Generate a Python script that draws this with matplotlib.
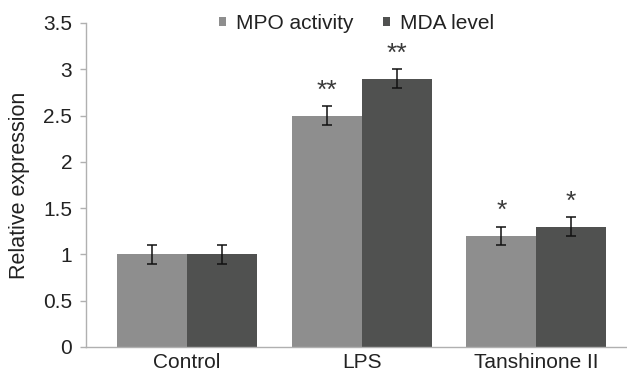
import matplotlib
matplotlib.use("Agg")
import matplotlib.pyplot as plt
import numpy as np

plt.rcParams['font.family'] = ['Liberation Sans', 'DejaVu Sans']

categories = ["Control", "LPS", "Tanshinone II"]
series_names = ["MPO activity", "MDA level"]
mpo = [1.0, 2.5, 1.2]
mda = [1.0, 2.9, 1.3]
mpo_err = [0.1, 0.1, 0.1]
mda_err = [0.1, 0.1, 0.1]
mpo_sig = ["", "**", "*"]
mda_sig = ["", "**", "*"]
yticks = [0, 0.5, 1, 1.5, 2, 2.5, 3, 3.5]
ytick_labels = ["0", "0.5", "1", "1.5", "2", "2.5", "3", "3.5"]

c_mpo = "#8e8e8e"
c_mda = "#505150"
fs = 15

fig = plt.figure(figsize=(6.27, 3.75), dpi=100)
ax = fig.add_axes([0.137, 0.0747, 0.863, 0.864])

x = np.arange(len(categories))
w = 0.4
ekw = dict(ecolor="#111111", elinewidth=1.1, capsize=3.5, capthick=1.1)
b1 = ax.bar(x - w/2, mpo, w, color=c_mpo, label=series_names[0], yerr=mpo_err, error_kw=ekw)
b2 = ax.bar(x + w/2, mda, w, color=c_mda, label=series_names[1], yerr=mda_err, error_kw=ekw)

for xi, v, e, s in zip(x - w/2, mpo, mpo_err, mpo_sig):
    if s:
        ax.text(xi, v + e + 0.17, s, ha="center", va="center", fontsize=19, color="#3a3a3a")
for xi, v, e, s in zip(x + w/2, mda, mda_err, mda_sig):
    if s:
        ax.text(xi, v + e + 0.17, s, ha="center", va="center", fontsize=19, color="#3a3a3a")

ax.set_xlim(-0.58, 2.52)
ax.set_ylim(0, 3.5)
ax.set_yticks(yticks)
ax.set_yticklabels(ytick_labels, fontsize=fs, color="#222222")
ax.set_xticks(x)
ax.set_xticklabels(categories, fontsize=fs, color="#222222")
ax.tick_params(axis="x", length=0, pad=4)
ax.tick_params(axis="y", length=4, width=1, color="#b0b0b0", pad=6, direction="out")

for s in ["top", "right"]:
    ax.spines[s].set_visible(False)
for s in ["left", "bottom"]:
    ax.spines[s].set_color("#b0b0b0")
    ax.spines[s].set_linewidth(1.0)

ax.set_ylabel("Relative expression", fontsize=15.5, color="#222222", labelpad=9)

leg = fig.legend(handles=[b1, b2], labels=series_names, loc="center", bbox_to_anchor=(0.569, 0.937),
                 ncol=2, frameon=False, fontsize=fs, handlelength=0.32, handleheight=0.32,
                 handletextpad=0.5, columnspacing=1.4)
for t in leg.get_texts():
    t.set_color("#222222")

fig.savefig("out.png", dpi=100)
